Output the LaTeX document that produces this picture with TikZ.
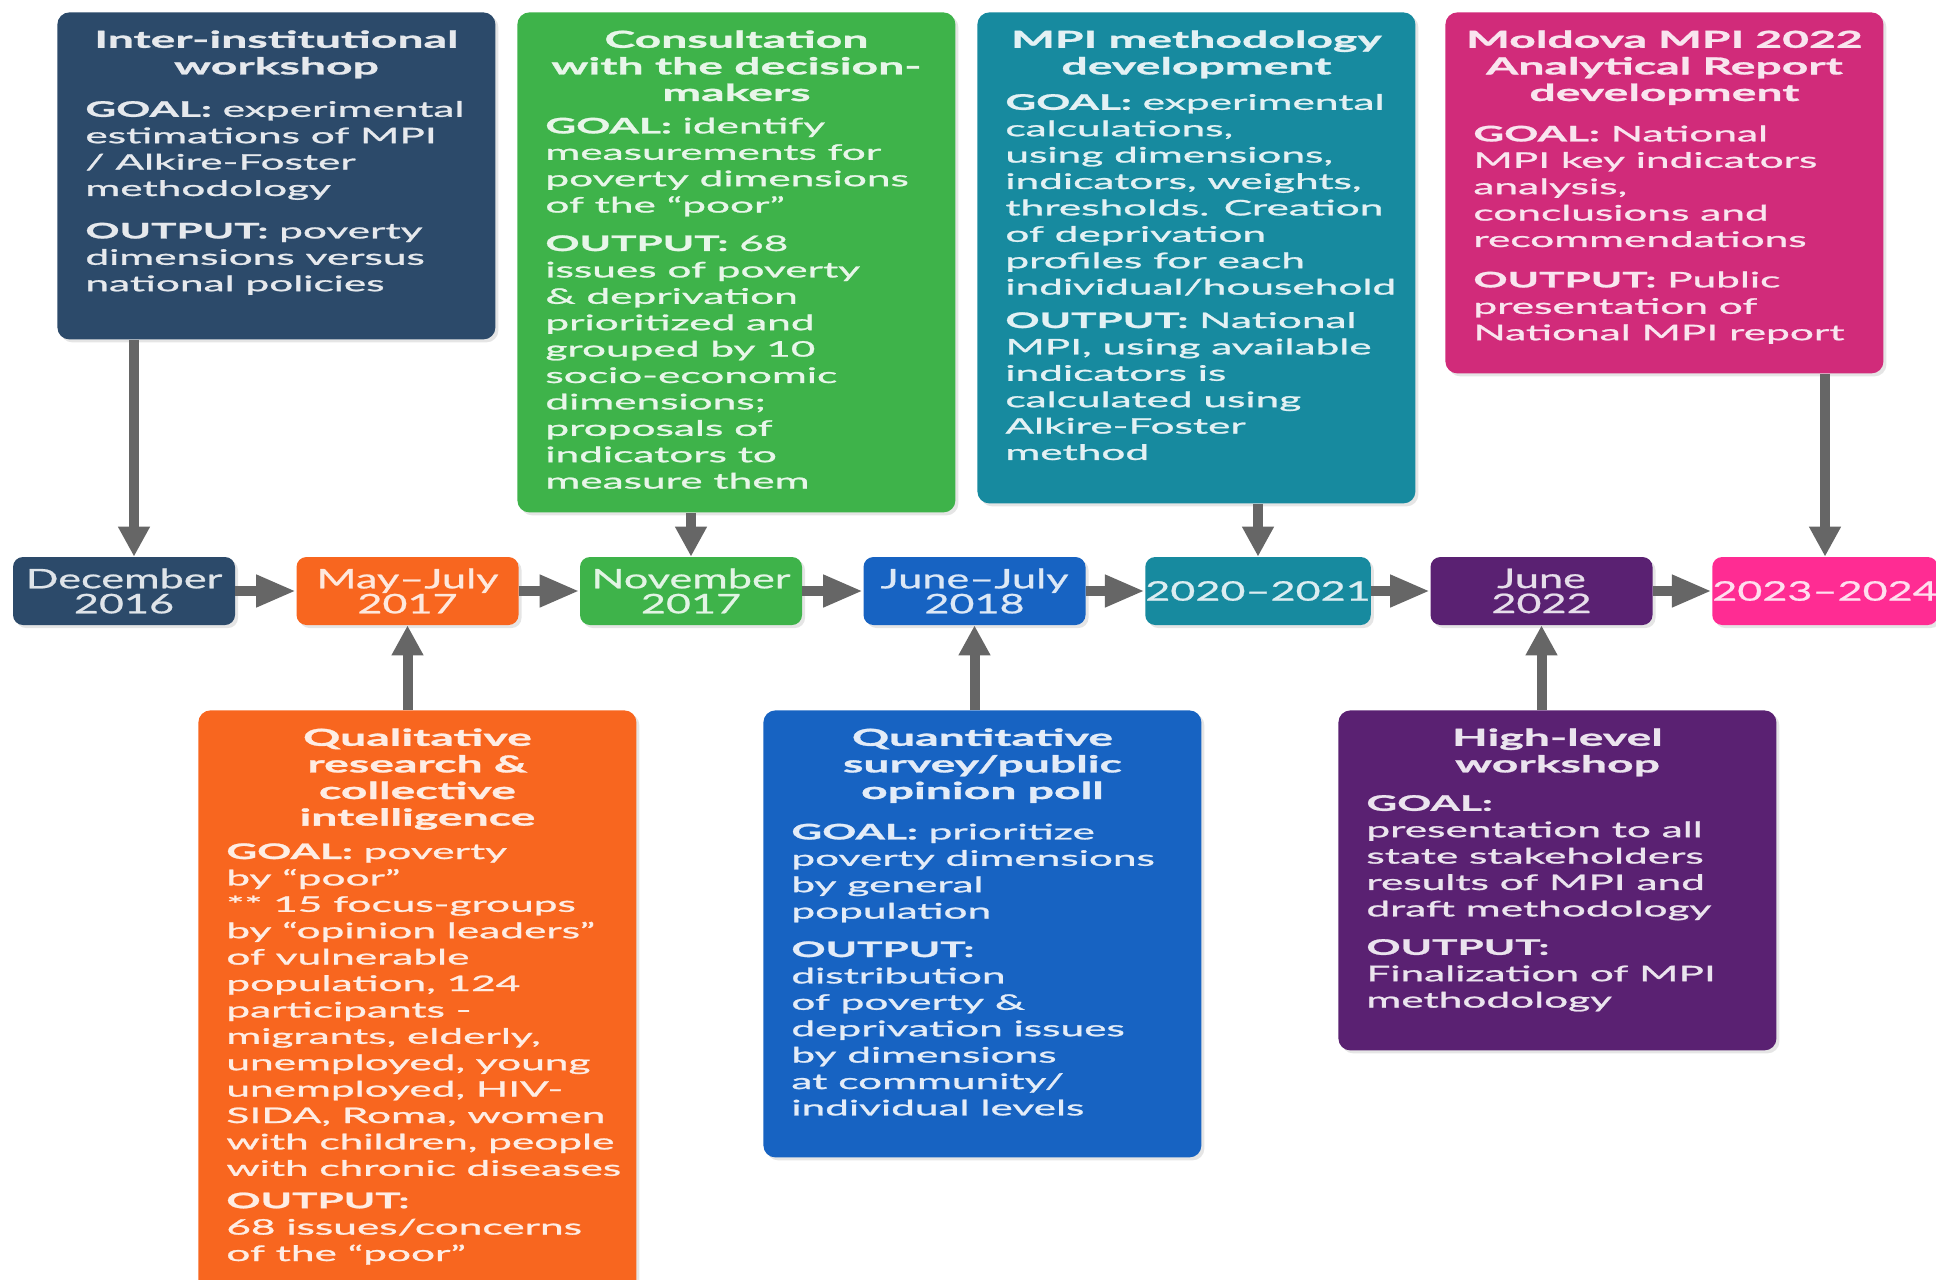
\documentclass[tikz,border=0pt]{standalone}
\usepackage{fontspec}
\setmainfont{Lato}[FakeStretch=1.98, FakeBold=1.2]
\newfontfamily\datefont{Lato}[FakeStretch=1.6, FakeBold=0.8]
\usetikzlibrary{arrows.meta}
\usetikzlibrary{shadows}

\definecolor{navy}{HTML}{2C4A6A}
\definecolor{tangerine}{HTML}{F8661F}
\definecolor{leaf}{HTML}{3EB34A}
\definecolor{royal}{HTML}{1763C2}
\definecolor{petrol}{HTML}{178A9F}
\definecolor{plum}{HTML}{5A2172}
\definecolor{berry}{HTML}{D12B7A}
\definecolor{hotpink}{HTML}{FF2C93}
\definecolor{arrowgrey}{HTML}{666666}

\newcommand{\titlefont}{\bfseries\fontsize{11.7pt}{13.3pt}\selectfont}
\newcommand{\bodyfont}{\fontsize{10.7pt}{13.2pt}\selectfont}
\newcommand{\cardtitle}[1]{{\centering\leftskip=0pt plus 1fil minus 60pt\rightskip=\leftskip\titlefont #1\par}}
\newcommand{\cardbody}[1]{{\raggedright\rightskip=0pt plus 1fil minus 100pt\bodyfont #1\par}}
\newcommand{\cardtext}[2]{\parbox[t][#1][t]{191pt}{#2}}

\tikzset{
  card/.style={fill=#1, text=#1!12!white, rounded corners=6pt, anchor=north west,
    inner xsep=14pt, inner ysep=9pt,
    drop shadow={opacity=0.2, shadow xshift=1.5pt, shadow yshift=-1.5pt}},
  date/.style={fill=#1, text=#1!15!white, rounded corners=5pt, inner sep=0pt,
    minimum width=111pt, minimum height=34pt, align=center,
    font=\datefont\fontsize{13.5pt}{12.5pt}\selectfont,
    drop shadow={opacity=0.2, shadow xshift=1.5pt, shadow yshift=-1.5pt}},
  flow/.style={draw=arrowgrey, line width=5pt, -{Triangle[width=15pt,length=15pt]}},
  link/.style={draw=arrowgrey, line width=5pt, -{Triangle[width=15pt,length=20pt]}}
}

\begin{document}
\begin{tikzpicture}[x=0.5pt,y=-0.5pt]
  \fill[white] (0,0) rectangle (1936,1279);
  \useasboundingbox (0,0) rectangle (1936,1279);

  % timeline
  \node[date=navy] (d1) at (124,591) {December\\2016};
  \node[date=tangerine] (d2) at (407.5,591) {May–July\\2017};
  \node[date=leaf] (d3) at (691,591) {November\\2017};
  \node[date=royal] (d4) at (974.5,591) {June–July\\2018};
  \node[date=petrol] (d5) at (1258,591) {2020–2021};
  \node[date=plum] (d6) at (1541.5,591) {June\\2022};
  \node[date=hotpink] (d7) at (1825,591) {2023–2024};
  \foreach \a/\b in {d1/d2,d2/d3,d3/d4,d4/d5,d5/d6,d6/d7}
    \draw[link] (\a) -- (\b);
  \coordinate (decin) at ([xshift=5pt]d1.north);

  % upper cards
  \node[card=navy] (inter) at (57,12) {\cardtext{145.5pt}{%
    \cardtitle{Inter-institutional\\workshop}\vspace{8pt}
    \cardbody{\textbf{GOAL:} experimental\\estimations of MPI\\/ Alkire-Foster\\methodology}\vspace{8pt}
    \cardbody{\textbf{OUTPUT:} poverty\\dimensions versus\\national policies}}};
  \node[card=leaf] (consult) at (517,12) {\cardtext{232pt}{%
    \cardtitle{Consultation\\with the decision-\\makers}\vspace{3pt}
    \cardbody{\textbf{GOAL:} identify\\measurements for\\poverty dimensions\\of the “poor”}\vspace{6pt}
    \cardbody{\textbf{OUTPUT:} 68\\issues of poverty\\\& deprivation\\prioritized and\\grouped by 10\\socio-economic\\dimensions;\\proposals of\\indicators to\\measure them}}};
  \node[card=petrol] (method) at (977,12) {\cardtext{227.5pt}{%
    \cardtitle{MPI methodology\\development}\vspace{4.5pt}
    \cardbody{\textbf{GOAL:} experimental\\calculations,\\using dimensions,\\indicators, weights,\\thresholds. Creation\\of deprivation\\profiles for each\\individual/household}\vspace{3.5pt}
    \cardbody{\textbf{OUTPUT:} National\\MPI, using available\\indicators is\\calculated using\\Alkire-Foster\\method}}};
  \node[card=berry] (report) at (1445,12) {\cardtext{162.5pt}{%
    \cardtitle{Moldova MPI 2022\\Analytical Report\\development}\vspace{7pt}
    \cardbody{\textbf{GOAL:} National\\MPI key indicators\\analysis,\\conclusions and\\recommendations}\vspace{7pt}
    \cardbody{\textbf{OUTPUT:} Public\\presentation of\\National MPI report}}};

  % lower cards
  \node[card=tangerine] (qual) at (198,710) {\cardtext{277pt}{%
    \cardtitle{Qualitative\\research \&\\collective\\intelligence}\vspace{3.5pt}
    \cardbody{\textbf{GOAL:} poverty\\by “poor”\\{**} 15 focus-groups\\by “opinion leaders”\\of vulnerable\\population, 124\\participants -\\migrants, elderly,\\unemployed, young\\unemployed, HIV-\\SIDA,  Roma, women\\with children, people\\with chronic diseases}\vspace{3pt}
    \cardbody{\textbf{OUTPUT:}\\68 issues/concerns\\of the “poor”}}};
  \node[card=royal] (survey) at (763,710) {\cardtext{205.5pt}{%
    \cardtitle{Quantitative\\survey/public\\opinion poll}\vspace{7pt}
    \cardbody{\textbf{GOAL:} prioritize\\poverty dimensions\\by general\\population}\vspace{6pt}
    \cardbody{\textbf{OUTPUT:}\\distribution\\of poverty \&\\deprivation issues\\by dimensions\\at community/\\individual levels}}};
  \node[card=plum] (summit) at (1338,710) {\cardtext{152pt}{%
    \cardtitle{High-level\\workshop}\vspace{6pt}
    \cardbody{\textbf{GOAL:}\\presentation to all\\state stakeholders\\results of MPI and\\draft  methodology}\vspace{6pt}
    \cardbody{\textbf{OUTPUT:}\\Finalization of MPI\\methodology}}};

  % cards to dates
  \draw[flow] (inter.south -| decin) -- (decin);
  \draw[flow] (consult.south -| d3) -- (d3);
  \draw[flow] (method.south -| d5) -- (d5);
  \draw[flow] (report.south -| d7) -- (d7);
  \draw[flow] (qual.north -| d2) -- (d2);
  \draw[flow] (survey.north -| d4) -- (d4);
  \draw[flow] (summit.north -| d6) -- (d6);
\end{tikzpicture}
\end{document}
